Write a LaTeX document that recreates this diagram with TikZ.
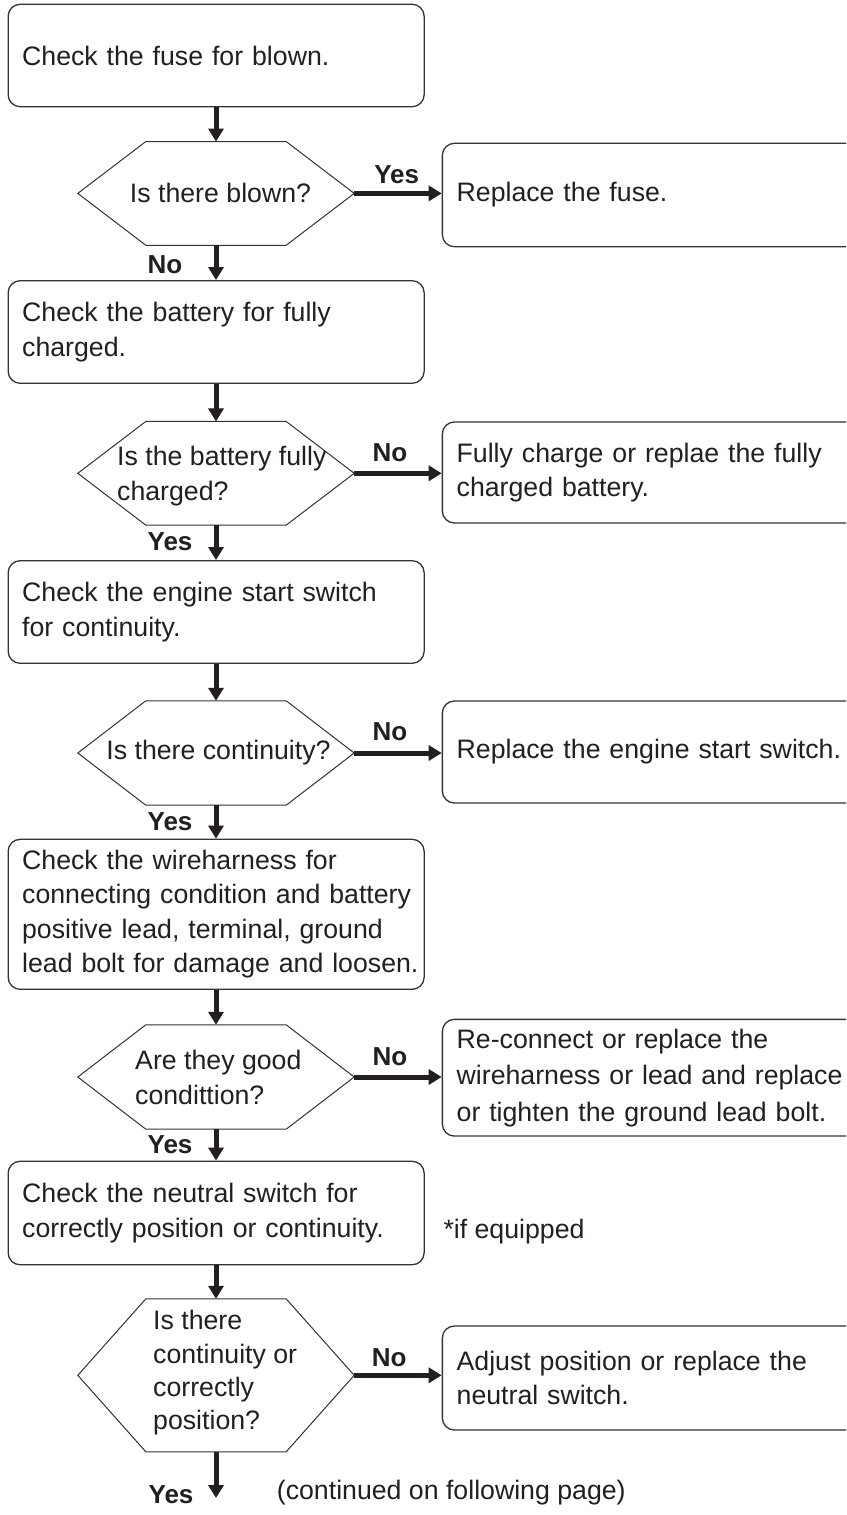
\documentclass[tikz,border=0pt]{standalone}
\usepackage{fontspec}
\setmainfont{Liberation Sans}
\usetikzlibrary{arrows.meta}
\definecolor{tc}{HTML}{231F20}
\definecolor{lc}{HTML}{333333}
\newcommand{\mainsz}{\fontsize{26.7pt}{34.5pt}\selectfont}
\newcommand{\labsz}{\fontsize{26pt}{30pt}\selectfont\bfseries}
\newcommand{\drawhexa}[1]{\draw[hexline] (#1.west) -- ([xshift=68pt]#1.north west) -- ([xshift=-68pt]#1.north east) -- (#1.east) -- ([xshift=-68pt]#1.south east) -- ([xshift=68pt]#1.south west) -- cycle;}
\tikzset{
  lbox/.style={draw=lc, line width=1.3pt, rounded corners=12pt, text=tc, font=\mainsz,
    text width=388pt, inner xsep=14pt, inner ysep=0pt, align=left},
  rbox/.style={draw=lc, line width=1.3pt, rounded corners=12pt, text=tc, font=\mainsz,
    text width=400pt, inner xsep=14.3pt, inner ysep=0pt, align=left, anchor=west},
  hexhold/.style={minimum width=276pt, inner sep=0pt},
  hexline/.style={draw=lc, line width=1pt},
  htext/.style={text=tc, font=\mainsz, align=left, inner sep=0pt},
  lab/.style={text=tc, font=\labsz, inner sep=0pt},
  flow/.style={draw=tc, line width=5pt, -{Triangle[width=15pt,length=13pt]}},
}
\begin{document}
\begin{tikzpicture}[x=1pt,y=-1pt]
\useasboundingbox (0,0) rectangle (846,1515);
\clip (0,0) rectangle (846,1515);
\fill[white] (0,0) rectangle (846,1515);

% left column boxes
\node[lbox, minimum height=102.4pt] (b1) at (216.15,55.5) {Check the fuse for blown.};
\node[lbox, minimum height=102.6pt] (b2) at (216.15,332) {Check the battery for fully\\charged.};
\node[lbox, minimum height=102.6pt] (b3) at (216.15,612) {Check the engine start switch\\for continuity.};
\node[lbox, minimum height=150pt] (b4) at (216.15,914.3) {\mbox{Check the wireharness for}\\\mbox{connecting condition and battery}\\\mbox{positive lead, terminal, ground}\\\mbox{lead bolt for damage and loosen.}};
\node[lbox, minimum height=103.5pt] (b5) at (216.15,1213) {\mbox{Check the neutral switch for}\\\mbox{correctly position or continuity.}};

% hexagons
\node[hexhold, minimum height=103.3pt] (h1) at (216,193.4) {};
\node[hexhold, minimum height=103.3pt] (h2) at (216,473.3) {};
\node[hexhold, minimum height=104pt] (h3) at (216,753) {};
\node[hexhold, minimum height=104pt] (h4) at (216,1077) {};
\node[hexhold, minimum height=152.5pt] (h5) at (216,1375.3) {};
\drawhexa{h1}
\drawhexa{h2}
\drawhexa{h3}
\drawhexa{h4}
\drawhexa{h5}

\node[htext] (h1t) at (220.5,193.4) {Is there blown?};
\node[htext, anchor=west] (h2t) at (117,476) {Is the battery fully\\charged?};
\node[htext] (h3t) at (218.5,753) {Is there continuity?};
\node[htext, anchor=west] (h4t) at (135,1077.5) {Are they good\\condittion?};
\node[htext, anchor=west, font=\fontsize{26.7pt}{33.3pt}\selectfont] (h5t) at (153,1373) {Is there\\continuity or\\correctly\\position?};

% right boxes
\node[rbox, minimum height=103.4pt] (r1) at (441.7,195) {Replace the fuse.};
\node[rbox, minimum height=101pt] (r2) at (441.7,472.5) {Fully charge or replae the fully\\charged battery.};
\node[rbox, minimum height=102pt] (r3) at (441.7,752) {Replace the engine start switch.};
\node[rbox, minimum height=116.7pt, font=\fontsize{26.7pt}{36.5pt}\selectfont] (r4) at (441.7,1077.7) {Re-connect or replace the\\wireharness or lead and replace\\or tighten the ground lead bolt.};
\node[rbox, minimum height=104pt] (r5) at (441.7,1378) {Adjust position or replace the\\neutral switch.};

% vertical connectors
\draw[flow] (b1.south -| h1.north) -- (h1.north);
\draw[flow] (h1.south) -- (h1.south |- b2.north);
\draw[flow] (b2.south -| h2.north) -- (h2.north);
\draw[flow] (h2.south) -- (h2.south |- b3.north);
\draw[flow] (b3.south -| h3.north) -- (h3.north);
\draw[flow] (h3.south) -- (h3.south |- b4.north);
\draw[flow] (b4.south -| h4.north) -- (h4.north);
\draw[flow] (h4.south) -- (h4.south |- b5.north);
\draw[flow] (b5.south -| h5.north) -- (h5.north);
\coordinate (endpt) at (216,1498);
\draw[flow] (h5.south) -- (endpt);

% horizontal connectors
\draw[flow] (h1.east) -- (h1.east -| r1.west);
\draw[flow] (h2.east) -- (h2.east -| r2.west);
\draw[flow] (h3.east) -- (h3.east -| r3.west);
\draw[flow] (h4.east) -- (h4.east -| r4.west);
\draw[flow] (h5.east) -- (h5.east -| r5.west);

% labels
\node[lab] (l1) at (396.7,175) {Yes};
\node[lab] (l2) at (165,265) {No};
\node[lab] (l3) at (390,453) {No};
\node[lab] (l4) at (170,541.7) {Yes};
\node[lab] (l5) at (390,731.7) {No};
\node[lab] (l6) at (170,821.7) {Yes};
\node[lab] (l7) at (390,1056.7) {No};
\node[lab] (l8) at (170,1145) {Yes};
\node[lab] (l9) at (389.3,1358) {No};
\node[lab] (l10) at (171,1495) {Yes};

\node[htext, anchor=west] (eq) at (443.3,1232) {*if equipped};
\node[htext, anchor=west] (cont) at (276.7,1493) {(continued on following page)};
\end{tikzpicture}
\end{document}
